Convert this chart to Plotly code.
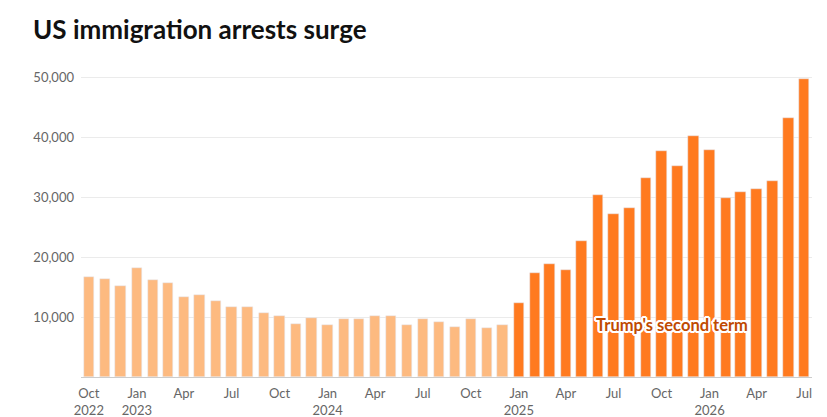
import plotly.graph_objects as go
import pandas as pd

months = pd.date_range("2022-10-01", "2026-07-01", freq="MS")
before_values = [16700, 16400, 15200, 18100, 16200, 15700, 13400, 13700, 12600, 11700,
                 11700, 10600, 10100, 8900, 9900, 8600, 9600, 9700, 10200, 10200,
                 8600, 9600, 9200, 8400, 9600, 8200, 8600]
after_values = [12300, 17400, 18900, 17900, 22600, 30400, 27200, 28200, 33100, 37600,
                35100, 40100, 37900, 29900, 30900, 31400, 32600, 43100, 49600]
tick_dates = ["2022-10-01", "2023-01-01", "2023-04-01", "2023-07-01", "2023-10-01",
              "2024-01-01", "2024-04-01", "2024-07-01", "2024-10-01", "2025-01-01",
              "2025-04-01", "2025-07-01", "2025-10-01", "2026-01-01", "2026-04-01",
              "2026-07-01"]
tick_text = ["Oct<br>2022", "Jan<br>2023", "Apr", "Jul", "Oct", "Jan<br>2024", "Apr", "Jul",
             "Oct", "Jan<br>2025", "Apr", "Jul", "Oct", "Jan<br>2026", "Apr", "Jul"]
y_ticks = [10000, 20000, 30000, 40000, 50000]
title = "US immigration arrests surge"
annotation_text = "Trump's second term"

n_before = len(before_values)
x_before = months[:n_before]
x_after = months[n_before:]
bar_w = 20 * 86400000

W, H = 819, 409  # page body has an 8px margin

fig = go.Figure()
fig.add_trace(go.Bar(x=x_before, y=before_values, marker_color="#fdba80",
                     width=bar_w, hoverinfo="skip"))
fig.add_trace(go.Bar(x=x_after, y=after_values, marker_color="#ff7a1f",
                     width=bar_w, hoverinfo="skip"))

halo = ", ".join(f"{dx}px {dy}px 0 #fff" for dx in (-2, -1, 0, 1, 2) for dy in (-2, -1, 0, 1, 2)
                 if (dx, dy) != (0, 0) and abs(dx) + abs(dy) <= 3)
fig.add_annotation(x="2025-10-21", y=8600, text="<b>" + annotation_text + "</b>",
                   showarrow=False, xanchor="center", yanchor="middle",
                   font=dict(family="Lato", size=16.5, color="#c04a00", shadow=halo))

fig.update_layout(
    width=W, height=H,
    margin=dict(l=73, r=15, t=66, b=40, autoexpand=False),
    paper_bgcolor="white", plot_bgcolor="white",
    showlegend=False,
    bargap=0,
    title=dict(text="<b>" + title + "</b>", x=25 / W, xanchor="left",
               y=1 - 22 / H, yanchor="middle", pad=dict(l=0, r=0, t=0, b=0),
               font=dict(family="Lato", size=26, color="#111111")),
    font=dict(family="Lato", size=13, color="#666666"),
    xaxis=dict(type="date", range=["2022-09-16", "2026-07-16"],
               tickvals=tick_dates, ticktext=tick_text, tickangle=0,
               showgrid=False, showline=True, linecolor="#cccccc", linewidth=1,
               ticks="", zeroline=False, automargin=False, ticklabelstandoff=4,
               tickfont=dict(family="Lato", size=13, color="#666666")),
    yaxis=dict(range=[0, 50500], tickvals=y_ticks, tickformat=",",
               showgrid=True, gridcolor="#ebebeb", gridwidth=1,
               zeroline=False, showline=False, ticks="", automargin=False,
               ticklabelstandoff=6,
               tickfont=dict(family="Lato", size=13, color="#666666")),
)

fig.write_html("out.html")
